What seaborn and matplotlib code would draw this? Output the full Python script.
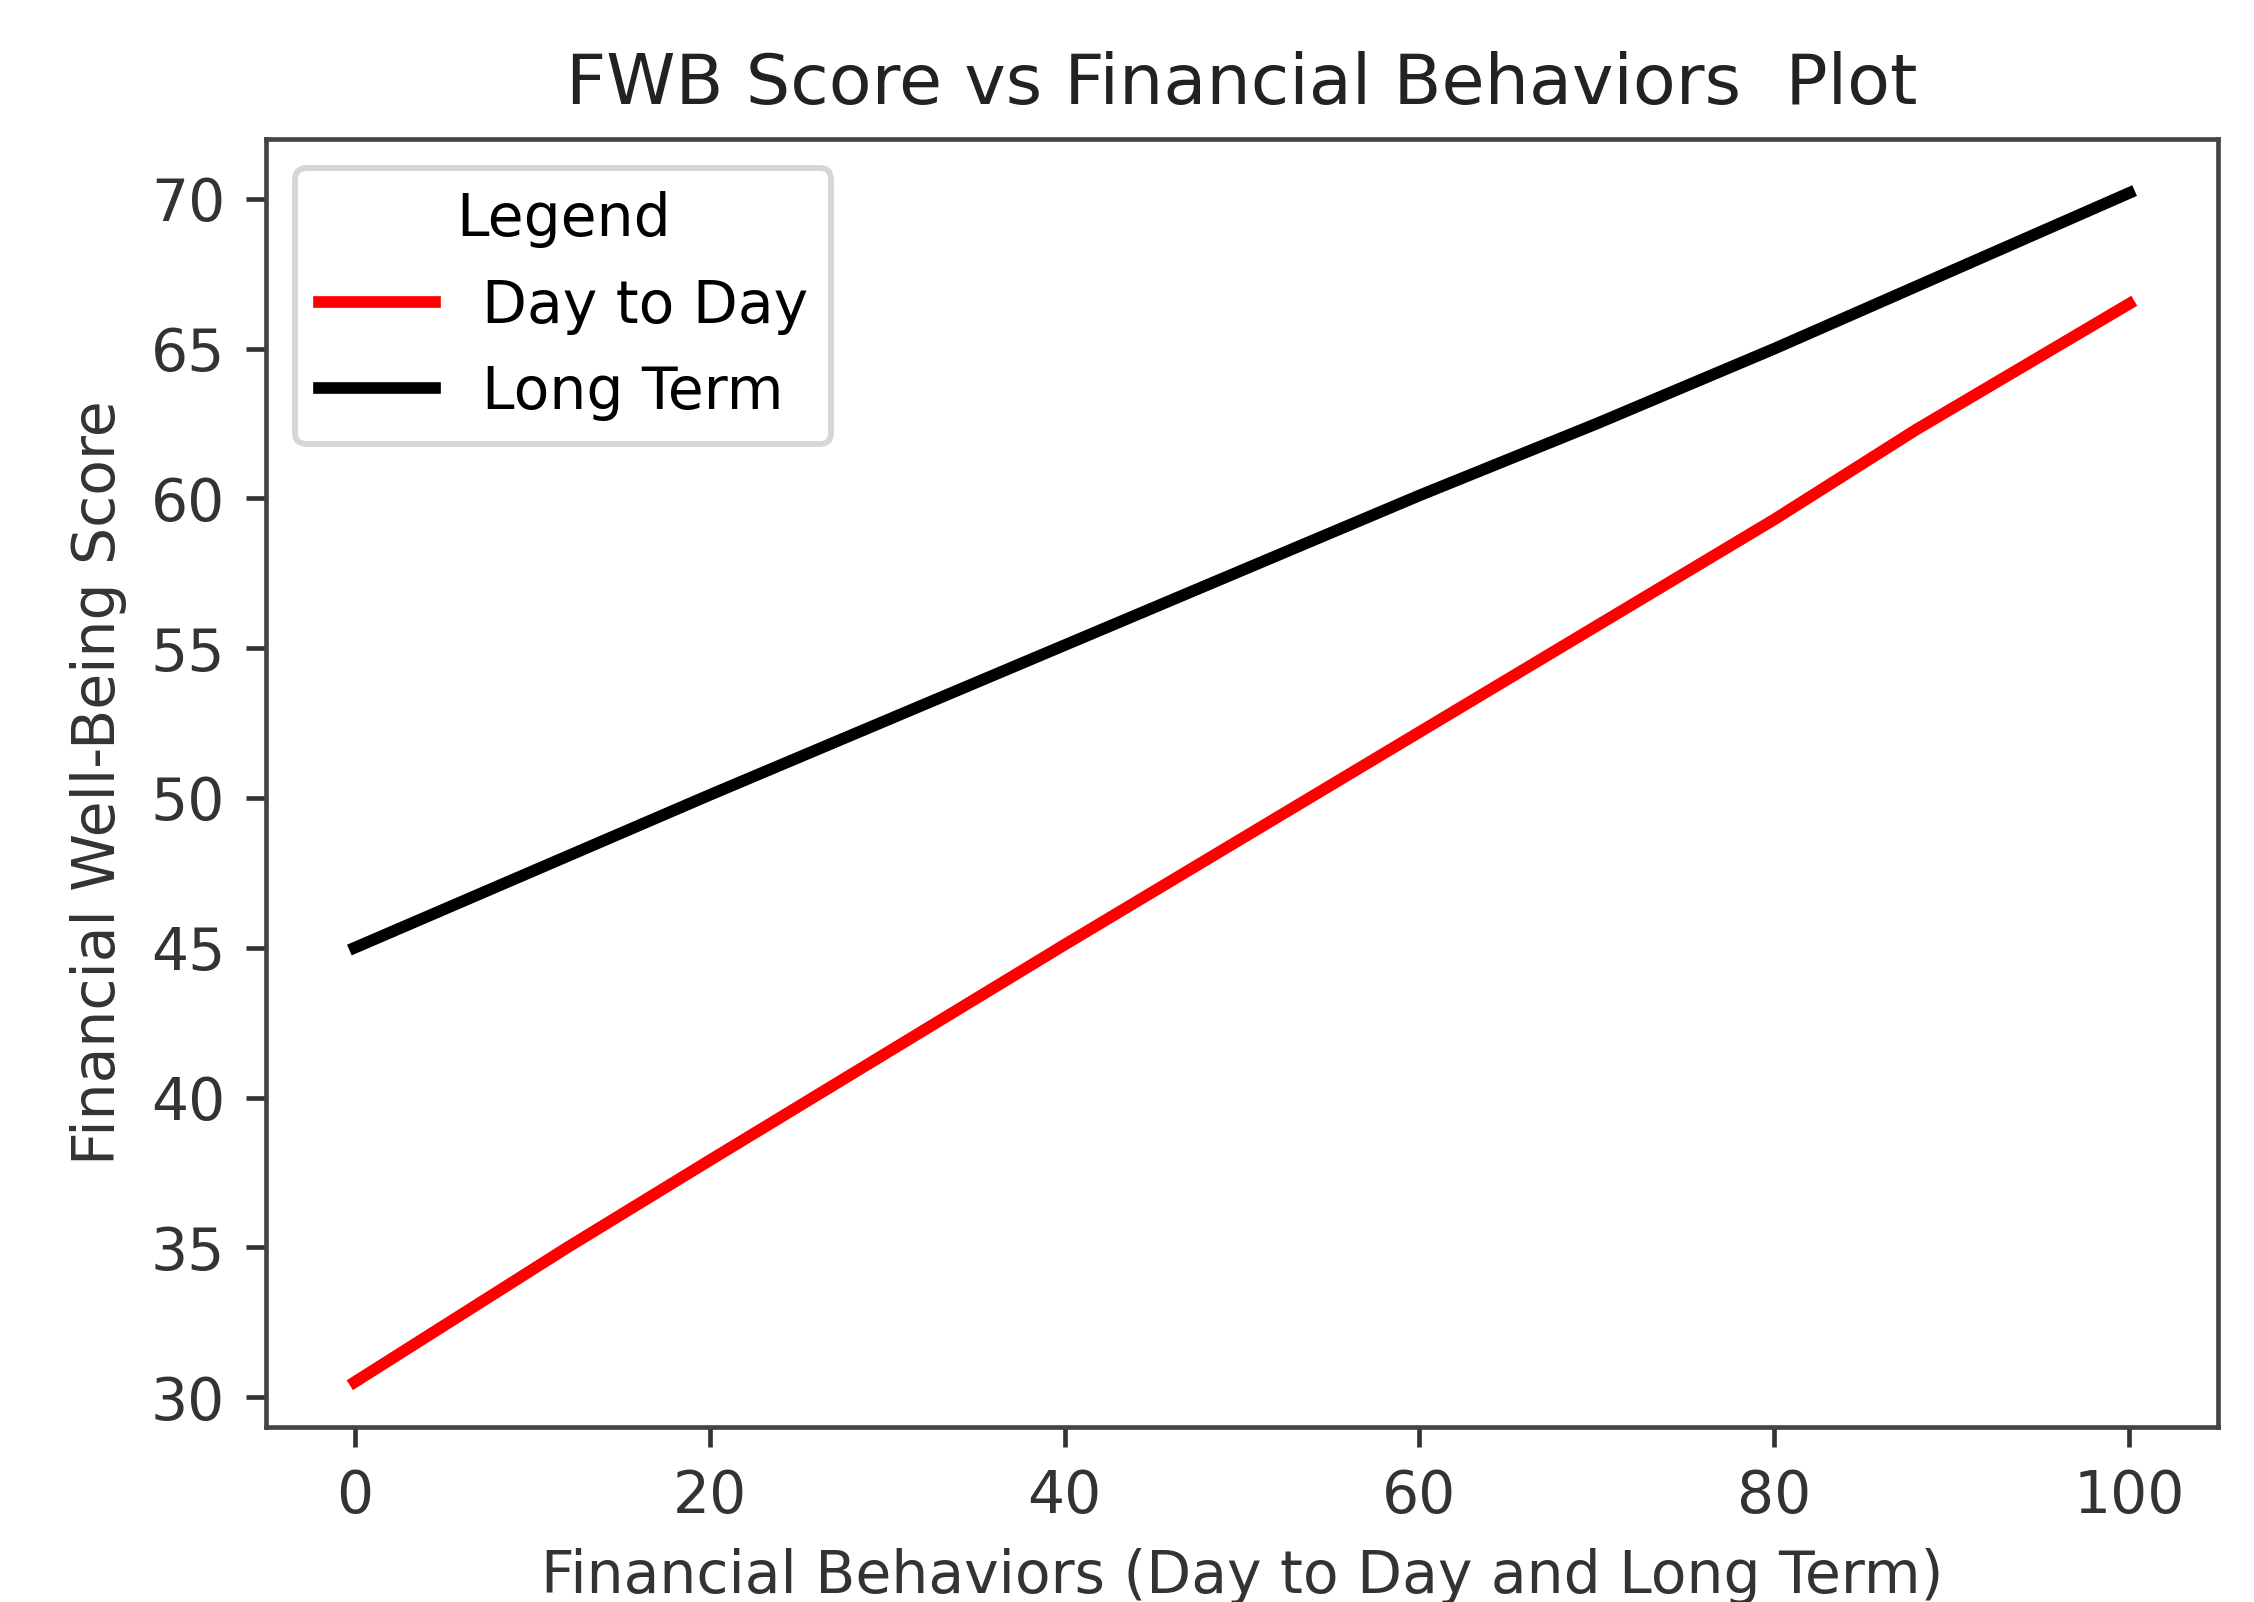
import pandas as pd
import seaborn as sns
import numpy as np
import matplotlib
matplotlib.use("Agg")
import matplotlib.pyplot as plt

# values
behavior_day = [0, 12, 20, 40, 60, 80, 88, 100]
fwb_day = [30.5, 35.0, 37.9, 45.1, 52.2, 59.3, 62.3, 66.5]
behavior_long = [0, 20, 40, 60, 70, 72, 80, 100]
fwb_long = [45.0, 50.1, 55.1, 60.1, 62.5, 63.0, 65.0, 70.2]

df_day = pd.DataFrame({'Behavior': behavior_day, 'FWB': fwb_day})
df_long = pd.DataFrame({'Behavior': behavior_long, 'FWB': fwb_long})

dpi = 420
fig = plt.figure(1, figsize=(2254 / dpi, 1602 / dpi), dpi=dpi)
ax = fig.add_axes([266 / 2254, 1 - 1427 / 1602, (2218 - 266) / 2254, (1427 - 139) / 1602])
sns.lineplot(x='Behavior', y='FWB', data=df_day, color='red', linewidth=2, label='Day to Day', ax=ax)
sns.lineplot(x='Behavior', y='FWB', data=df_long, color='black', linewidth=2, label='Long Term', ax=ax)
ax.set_xlim(-5, 105)
ax.set_ylim(29, 72)
ax.set_xticks([0, 20, 40, 60, 80, 100])
ax.set_yticks([30, 35, 40, 45, 50, 55, 60, 65, 70])
for s in ax.spines.values():
    s.set_color('#444444')
ax.tick_params(colors='#333333')
plt.title("FWB Score vs Financial Behaviors  Plot", fontsize=12, color='#222222')
ax.set_xlabel('Financial Behaviors (Day to Day and Long Term)', color='#333333')
ax.set_ylabel('Financial Well-Being Score', color='#333333')
ax.legend(title='Legend', loc='upper left')
plt.savefig('out.png', dpi=dpi)
